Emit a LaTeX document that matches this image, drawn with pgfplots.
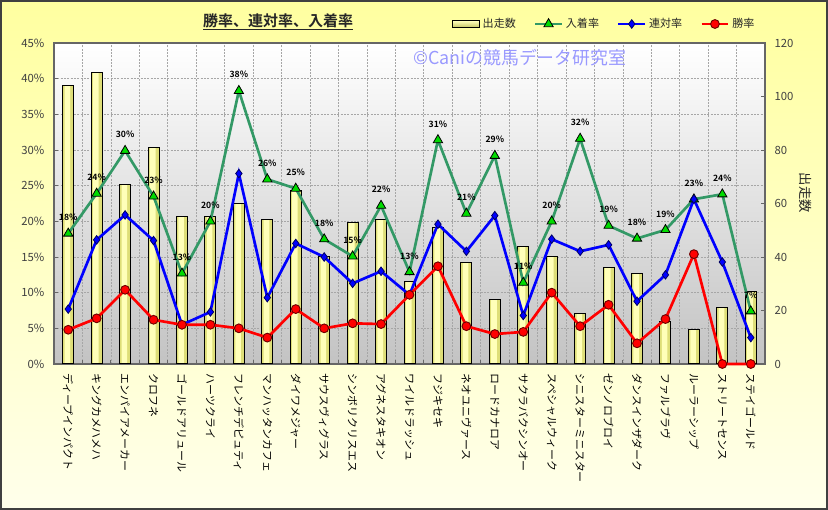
\documentclass[border=0pt]{standalone}
\usepackage{pgfplots}
\pgfplotsset{compat=1.18}
\usepackage{pgfplotstable}
\usepackage{fontspec}
\setmainfont{Noto Sans CJK JP}[BoldFont=Noto Sans CJK JP Bold]
\definecolor{bgtop}{RGB}{255,255,160}
\definecolor{bgbot}{RGB}{255,255,235}
\definecolor{plotbot}{RGB}{195,195,195}
\definecolor{barmid}{RGB}{255,255,185}
\definecolor{barbase}{RGB}{222,222,120}
\definecolor{baredge}{RGB}{200,200,105}
\definecolor{nyuline}{RGB}{51,153,102}
\definecolor{nyumark}{RGB}{0,220,0}
\definecolor{wm}{RGB}{153,153,255}
\definecolor{ticktext}{RGB}{64,64,64}

\pgfplotstableread{
x bars win ren nyu lab
0 104 4.8 7.7 18.3 18
1 109 6.4 17.4 23.9 24
2 67 10.4 20.9 29.9 30
3 81 6.2 17.3 23.5 23
4 55 5.5 5.5 12.7 13
5 55 5.5 7.3 20.0 20
6 60 5.0 26.7 38.3 38
7 54 3.7 9.3 25.9 26
8 65 7.7 16.9 24.6 25
9 40 5.0 15.0 17.5 18
10 53 5.7 11.3 15.1 15
11 54 5.6 13.0 22.2 22
12 31 9.7 9.7 12.9 13
13 51 13.7 19.6 31.4 31
14 38 5.3 15.8 21.1 21
15 24 4.2 20.8 29.2 29
16 44 4.5 6.8 11.4 11
17 40 10.0 17.5 20.0 20
18 19 5.3 15.8 31.6 32
19 36 8.3 16.7 19.4 19
20 34 2.9 8.8 17.6 18
21 16 6.3 12.5 18.8 19
22 13 15.4 23.1 23.1 23
23 21 0.0 14.3 23.8 24
24 27 0.0 3.7 7.4 7
}\data

\pgfplotsset{
  common/.style={
    at={(40.5pt,109.5pt)}, anchor=south west,
    scale only axis, width=533.25pt, height=240.75pt,
    xmin=-0.5, xmax=24.5,
  },
}

\begin{document}
\begin{tikzpicture}
% page background
\shade[top color=bgtop, bottom color=bgbot] (0,0) rectangle (621pt,382.5pt);
\draw[black!75, line width=1.5pt] (0.75pt,0.75pt) rectangle (620.25pt,381.75pt);

% axis A: background, grid, left ticks, category labels
\begin{axis}[
  common,
  ymin=0, ymax=45,
  axis background/.style={top color=white, bottom color=plotbot},
  xtick={0,...,24},
  xticklabels={ディープインパクト,キングカメハメハ,エンパイアメーカー,クロフネ,ゴールドアリュール,ハーツクライ,フレンチデピュティ,マンハッタンカフェ,ダイワメジャー,サウスヴィグラス,シンボリクリスエス,アグネスタキオン,ワイルドラッシュ,フジキセキ,ネオユニヴァース,ロードカナロア,サクラバクシンオー,スペシャルウィーク,シニスターミニスター,ゼンノロブロイ,ダンスインザダーク,ファルブラヴ,ルーラーシップ,ストリートセンス,ステイゴールド},
  xticklabel style={rotate=-90, anchor=west, inner sep=0pt, font=\fontsize{8.2}{9}\selectfont, text=black},
  xticklabel shift=7pt,
  major x tick style={draw=none},
  minor xtick={-0.5,0.5,...,24.5},
  xminorgrids, ymajorgrids,
  ytick={0,5,...,45},
  yticklabel={\pgfmathprintnumber{\tick}\%},
  yticklabel style={inner sep=0pt, font=\fontsize{8.5}{10}\selectfont, text=ticktext},
  yticklabel shift=7pt,
  /pgf/number format/assume math mode=true,
  xtick pos=left, ytick pos=left,
  grid style={black!35, dash pattern=on 1.5pt off 1pt, line width=0.4pt},
  minor grid style={black!35, dash pattern=on 1.5pt off 1pt, line width=0.4pt},
  axis line style={black!60, line width=0.9pt},
  tick style={black!60, line width=0.6pt},
  major tick length=3pt, minor tick length=3pt,
]
\addplot[draw=none, forget plot] coordinates {(0,0)};
\end{axis}

% axis B: bars on the right axis
\begin{axis}[
  common,
  ymin=0, ymax=120,
  axis x line=none, axis y line*=right,
  ytick={0,20,...,120},
  yticklabel style={inner sep=0pt, font=\fontsize{8.5}{10}\selectfont, text=ticktext},
  yticklabel shift=7pt,
  /pgf/number format/assume math mode=true,
  axis line style={black!60, line width=0.9pt},
  tick style={black!60, line width=0.6pt},
  major tick length=3pt,
]
\addplot[ybar, bar shift=0pt, bar width=8.25pt, draw=none, fill=barbase]
  table[x=x, y=bars] {\data};
\addplot[ybar, bar shift=-0.6pt, bar width=4.2pt, draw=none, fill=barmid]
  table[x=x, y=bars] {\data};
\addplot[ybar, bar shift=0pt, bar width=8.25pt, draw=black, line width=0.75pt, fill=none]
  table[x=x, y=bars] {\data};
\end{axis}

% axis C: rate lines
\begin{axis}[
  common,
  ymin=0, ymax=45,
  hide axis, clip=false,
  legend columns=4,
  legend cell align=left,
  legend style={at={(0.5598,1.0592)}, anchor=west, draw=none, fill=none,
    inner sep=0pt, font=\fontsize{8.3}{10}\selectfont, text=black!85,
    nodes={inner sep=1pt},
    /tikz/every odd column/.append style={column sep=1pt},
    /tikz/every even column/.append style={column sep=12.5pt}},
  legend image code/.code={\draw[mark repeat=2, mark phase=2, #1] plot coordinates {(0pt,0pt) (10pt,0pt) (20pt,0pt)};},
]
\addlegendimage{legend image code/.code={\draw[draw=black, line width=0.8pt, top color=barmid, bottom color=baredge] (0pt,-2.3pt) rectangle (20pt,2.3pt);}}
\addlegendentry{出走数}
\addplot[nyuline, line width=2pt, mark=triangle*, mark size=4pt,
  mark options={fill=nyumark, draw=black, line width=0.6pt, solid},
  point meta=explicit symbolic,
  nodes near coords={\pgfplotspointmeta\%},
  nodes near coords style={font=\fontsize{6.5}{7}\selectfont\bfseries, text=black, anchor=center, yshift=12pt}]
  table[x=x, y=nyu, meta=lab] {\data};
\addlegendentry{入着率}
\addplot[blue, line width=2pt, mark=diamond*, mark size=3.2pt,
  mark options={fill=blue, draw={rgb,255:red,0;green,0;blue,100}, line width=0.6pt}]
  table[x=x, y=ren] {\data};
\addlegendentry{連対率}
\addplot[red, line width=2pt, mark=*, mark size=3.3pt,
  mark options={fill=red, draw={rgb,255:red,110;green,0;blue,0}, line width=0.7pt}]
  table[x=x, y=win] {\data};
\addlegendentry{勝率}
\end{axis}

% title, watermark, right label
\node[font=\fontsize{11.25}{13}\selectfont\bfseries, text=black!85] at (208.5pt,366pt) {\underline{勝率、連対率、入着率}};
\node[anchor=west, inner sep=0pt, font=\fontsize{13.4}{15}\selectfont, text=wm] at (309.75pt,339pt) {©Caniの競馬データ研究室};
\node[rotate=-90, font=\fontsize{10}{12}\selectfont, text=black!85] at (604.5pt,237.75pt) {出走数};
\end{tikzpicture}
\end{document}
